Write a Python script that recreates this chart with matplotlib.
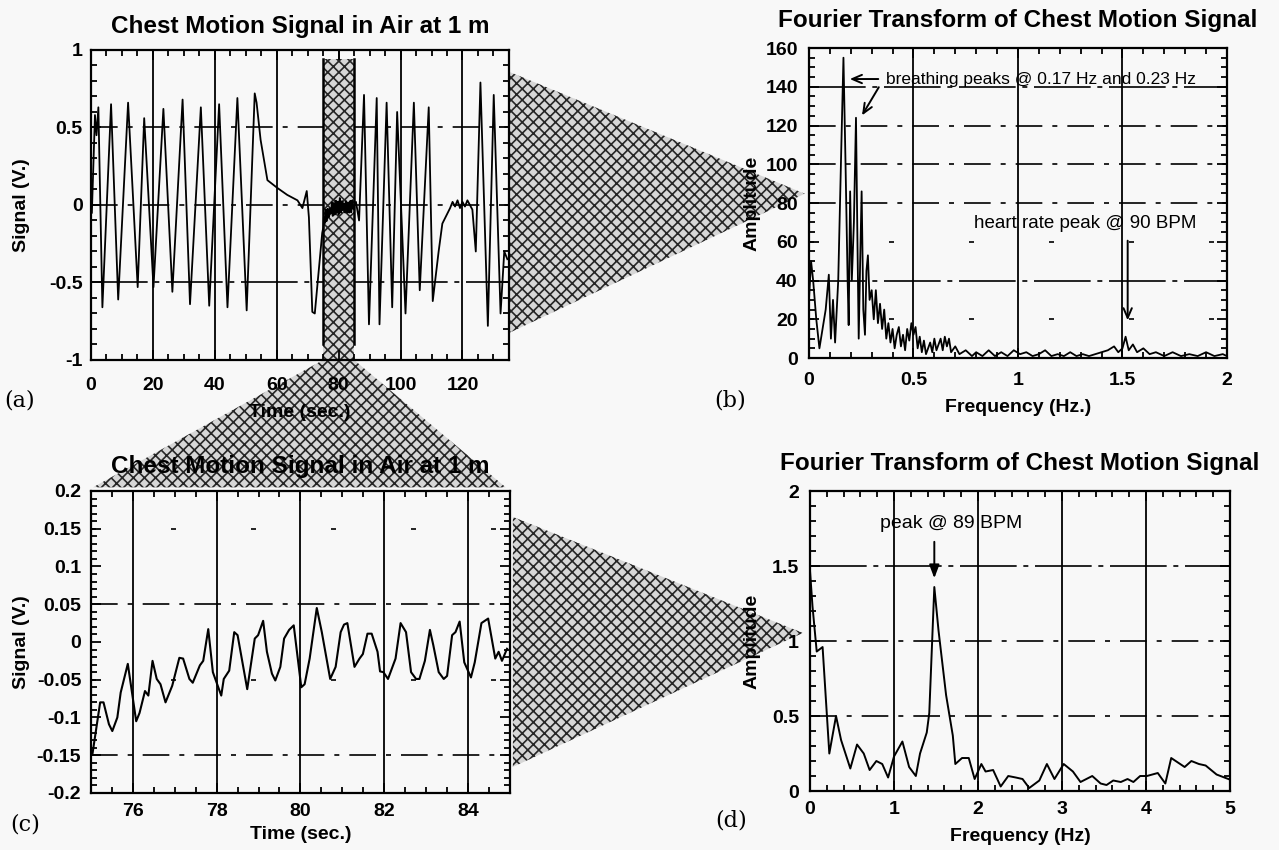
import matplotlib
matplotlib.use('Agg')
import matplotlib.pyplot as plt
from matplotlib.patches import Polygon
from matplotlib.ticker import MultipleLocator

plt.rcParams['font.family'] = ['Liberation Sans', 'DejaVu Sans']
plt.rcParams['hatch.linewidth'] = 1.2

# ---- (a) chest motion over the whole record, peaks/troughs
a_t_start = [0.3, 1.3, 1.8, 2.4, 3.7, 6.5, 8.8, 12.0, 15.1, 17.2, 20.2, 23.4, 26.3,
             29.6, 32.0, 35.5, 38.2, 41.4, 44.1, 47.3, 50.3, 52.9, 53.5, 54.8, 57.0,
             60.2, 63.4, 66.7, 68.3, 69.7, 70.4, 71.5, 72.3, 73.7, 74.7]
a_v_start = [-0.05, 0.58, 0.45, 0.63, -0.66, 0.65, -0.61, 0.66, -0.53, 0.56, -0.53, 0.62, -0.56,
             0.68, -0.64, 0.63, -0.65, 0.65, -0.66, 0.69, -0.68, 0.72, 0.66, 0.42, 0.16,
             0.11, 0.065, 0.03, -0.02, 0.09, -0.08, -0.69, -0.70, -0.40, -0.18]
a_t_end = [85.6, 86.6, 88.2, 89.8, 92.3, 93.2, 95.5, 97.3, 98.9, 101.6, 104.3, 106.2,
           109.1, 110.4, 112.3, 113.5, 115.0, 116.0, 116.8, 117.6, 118.4, 119.2, 120.0,
           120.8, 121.6, 122.4, 123.2, 124.3, 125.8, 128.2, 130.1, 132.3, 133.5, 134.5]
a_v_end = [0.02, -0.10, 0.71, -0.77, 0.69, -0.77, 0.66, -0.66, 0.60, -0.70, 0.66, -0.55,
           0.63, -0.62, -0.30, -0.12, -0.06, -0.02, 0.02, -0.01, 0.03, -0.02, 0.02,
           -0.01, 0.03, 0.0, -0.03, -0.30, 0.79, -0.78, 0.71, -0.70, -0.30, -0.35]

# ---- (c) the 75-85 s window
c_t = [75.04, 75.22, 75.30, 75.43, 75.51, 75.63, 75.71, 75.88, 76.08, 76.16, 76.29, 76.37,
       76.47, 76.57, 76.66, 76.78, 76.94, 77.11, 77.20, 77.35, 77.43, 77.60, 77.68, 77.80,
       77.91, 78.11, 78.17, 78.30, 78.42, 78.50, 78.73, 78.91, 78.99, 79.11, 79.20, 79.32,
       79.40, 79.52, 79.61, 79.73, 79.84, 80.02, 80.10, 80.22, 80.39, 80.51, 80.71, 80.84,
       80.96, 81.04, 81.12, 81.29, 81.41, 81.49, 81.60, 81.70, 81.84, 81.90, 81.98, 82.09,
       82.27, 82.39, 82.52, 82.64, 82.76, 82.84, 82.97, 83.09, 83.17, 83.30, 83.42, 83.50,
       83.62, 83.70, 83.80, 83.91, 84.07, 84.16, 84.32, 84.48, 84.65, 84.73, 84.81, 84.93]
c_v = [-0.147, -0.080, -0.080, -0.109, -0.118, -0.100, -0.067, -0.029, -0.105, -0.094,
       -0.065, -0.071, -0.025, -0.049, -0.056, -0.080, -0.058, -0.021, -0.022, -0.049,
       -0.054, -0.031, -0.025, 0.017, -0.040, -0.071, -0.049, -0.038, 0.013, 0.009,
       -0.0625, 0.0045, 0.009, 0.028, -0.013, -0.042, -0.051, -0.033, 0.0045, 0.016,
       0.022, -0.060, -0.056, -0.022, 0.045, 0.013, -0.049, -0.033, 0.013, 0.023,
       0.025, -0.033, -0.022, -0.016, 0.011, 0.011, -0.013, -0.039, -0.040, -0.049,
       -0.022, 0.025, 0.013, -0.040, -0.049, -0.049, -0.025, 0.016, -0.004, -0.040,
       -0.049, -0.045, 0.009, 0.013, 0.027, -0.027, -0.047, -0.027, 0.025, 0.031,
       -0.022, -0.013, -0.025, -0.009]
c_window = (75, 85)

# ---- (b) spectrum of the whole record
b_f = [0.00, 0.01, 0.02, 0.035, 0.05, 0.065, 0.08, 0.095, 0.105, 0.115, 0.125, 0.14, 0.155,
       0.165, 0.175, 0.185, 0.19, 0.197, 0.205, 0.215, 0.225, 0.232, 0.238, 0.245, 0.252,
       0.26, 0.268, 0.275, 0.282, 0.29, 0.30, 0.31, 0.32, 0.33, 0.34, 0.35, 0.36, 0.37,
       0.38, 0.39, 0.40, 0.41, 0.42, 0.43, 0.44, 0.45, 0.46, 0.47, 0.48, 0.49, 0.50, 0.51,
       0.52, 0.53, 0.54, 0.55, 0.56, 0.58, 0.59, 0.60, 0.61, 0.62, 0.63, 0.64, 0.65, 0.66,
       0.67, 0.68, 0.70, 0.72, 0.75, 0.78, 0.80, 0.83, 0.86, 0.89, 0.92, 0.95, 0.98, 1.01,
       1.04, 1.07, 1.10, 1.13, 1.16, 1.19, 1.22, 1.25, 1.28, 1.31, 1.34, 1.37, 1.40, 1.43,
       1.46, 1.48, 1.50, 1.515, 1.53, 1.55, 1.57, 1.60, 1.63, 1.66, 1.70, 1.74, 1.78, 1.82,
       1.86, 1.90, 1.94, 1.98, 2.00]
b_amp = [30, 50, 40, 20, 5, 15, 25, 43, 10, 30, 8, 40, 110,
         155, 100, 40, 17, 86, 40, 70, 124, 60, 10, 50, 86,
         25, 12, 45, 53, 30, 35, 20, 35, 18, 28, 15, 25, 10,
         18, 8, 15, 5, 12, 16, 6, 12, 4, 15, 9, 18, 12, 16,
         5, 11, 3, 9, 2, 8, 3, 10, 4, 7, 10, 4, 11, 6,
         10, 3, 6, 2, 4, 1, 3, 1, 4, 1, 3, 1, 4, 2,
         3, 1, 2, 4, 1, 2, 1, 3, 1, 2, 1, 2, 3, 4,
         6, 3, 5, 11, 4, 7, 3, 5, 2, 3, 1, 3, 1, 2,
         1, 3, 1, 2, 1]

# ---- (d) spectrum of the 75-85 s window
d_f = [0.0, 0.03, 0.08, 0.15, 0.23, 0.31, 0.37, 0.48, 0.56, 0.64, 0.71, 0.79, 0.86, 0.93,
       1.00, 1.10, 1.18, 1.26, 1.31, 1.39, 1.42, 1.48, 1.53, 1.62, 1.70, 1.73, 1.81, 1.89,
       1.96, 2.04, 2.09, 2.18, 2.27, 2.36, 2.45, 2.53, 2.61, 2.73, 2.82, 2.91, 3.02, 3.13,
       3.22, 3.36, 3.46, 3.53, 3.61, 3.70, 3.78, 3.85, 3.93, 4.01, 4.14, 4.23, 4.30, 4.46,
       4.54, 4.63, 4.71, 4.84, 4.98]
d_amp = [1.47, 1.23, 0.93, 0.96, 0.25, 0.50, 0.34, 0.15, 0.31, 0.25, 0.14, 0.20, 0.18, 0.09,
         0.23, 0.33, 0.16, 0.10, 0.25, 0.39, 0.52, 1.36, 1.07, 0.64, 0.37, 0.18, 0.22, 0.22,
         0.08, 0.18, 0.13, 0.14, 0.03, 0.10, 0.09, 0.08, 0.02, 0.07, 0.18, 0.08, 0.18, 0.13,
         0.06, 0.10, 0.05, 0.04, 0.07, 0.06, 0.08, 0.06, 0.10, 0.10, 0.12, 0.05, 0.22, 0.16,
         0.20, 0.18, 0.17, 0.11, 0.08]

# tick positions / labels
a_xticks = [0, 20, 40, 60, 80, 100, 120]
a_xlabels = ['0', '20', '40', '60', '80', '100', '120']
a_yticks = [-1, -0.5, 0, 0.5, 1]
a_ylabels = ['-1', '-0.5', '0', '0.5', '1']
b_xticks = [0, 0.5, 1, 1.5, 2]
b_xlabels = ['0', '0.5', '1', '1.5', '2']
b_yticks = [0, 20, 40, 60, 80, 100, 120, 140, 160]
b_ylabels = ['0', '20', '40', '60', '80', '100', '120', '140', '160']
c_xticks = [76, 78, 80, 82, 84]
c_xlabels = ['76', '78', '80', '82', '84']
c_yticks = [-0.2, -0.15, -0.1, -0.05, 0, 0.05, 0.1, 0.15, 0.2]
c_ylabels = ['-0.2', '-0.15', '-0.1', '-0.05', '0', '0.05', '0.1', '0.15', '0.2']
d_xticks = [0, 1, 2, 3, 4, 5]
d_xlabels = ['0', '1', '2', '3', '4', '5']
d_yticks = [0, 0.5, 1, 1.5, 2]
d_ylabels = ['0', '0.5', '1', '1.5', '2']

title_a = 'Chest Motion Signal in Air at 1 m'
title_b = 'Fourier Transform of Chest Motion Signal'

BG = '#f8f8f8'
STIP_FACE = '#d6d6d6'
STIP_EDGE = '#262626'
# the scanned horizontal grid lines come out broken in different ways
DENSE = (0, (34, 4, 3, 4))
DASHDOT = (0, (16, 6, 3, 6))
SPARSE = (0, (3, 45))

# horizontal grid values and how broken each one looks
a_hgrid = [(0.5, DASHDOT), (0, DASHDOT), (-0.5, DENSE)]
b_hgrid = [(140, DENSE), (120, DASHDOT), (100, DASHDOT), (80, DASHDOT), (60, SPARSE),
           (40, DENSE), (20, SPARSE)]
c_hgrid = [(0.15, SPARSE), (0.05, DASHDOT), (-0.05, SPARSE), (-0.15, DASHDOT)]
d_hgrid = [(1.5, DENSE), (1, DASHDOT), (0.5, DASHDOT)]

fig = plt.figure(figsize=(12.79, 8.5), dpi=100, facecolor=BG)
ax_a = fig.add_axes([0.0711, 0.5765, 0.3268, 0.3647], facecolor='none')
ax_b = fig.add_axes([0.6325, 0.5788, 0.3268, 0.3647], facecolor='none')
ax_c = fig.add_axes([0.0711, 0.0671, 0.3276, 0.3553], facecolor='none')
ax_d = fig.add_axes([0.6333, 0.0694, 0.3284, 0.3529], facecolor='none')


def dress(ax, xt, xl, yt, yl, xminor, yminor, xpad, ypad, hgrid):
    ax.set_xticks(xt, xl)
    ax.set_yticks(yt, yl)
    ax.xaxis.set_minor_locator(MultipleLocator(xminor))
    ax.yaxis.set_minor_locator(MultipleLocator(yminor))
    ax.tick_params(which='both', direction='in', top=True, right=True, width=1.3,
                   labelsize=14)
    ax.tick_params(which='major', length=7)
    ax.tick_params(which='minor', length=4)
    ax.tick_params(axis='x', which='major', pad=xpad)
    ax.tick_params(axis='y', which='major', pad=ypad)
    for lab in ax.get_xticklabels() + ax.get_yticklabels():
        lab.set_fontweight('bold')
    for s in ax.spines.values():
        s.set_linewidth(1.6)
    lo, hi = ax.get_xlim()
    for x in xt:
        if lo < x < hi:
            ax.axvline(x, color='k', lw=1.3, zorder=1)
    for y, ls in hgrid:
        ax.axhline(y, color='k', lw=1.2, ls=ls, zorder=1)


# (a)
a_t = a_t_start + c_t + a_t_end
a_v = a_v_start + c_v + a_v_end
ax_a.set_xlim(0, 135)
ax_a.set_ylim(-1, 1)
dress(ax_a, a_xticks, a_xlabels, a_yticks, a_ylabels, 5, 0.1, 12, 6, a_hgrid)
ax_a.axvspan(*c_window, ymin=0.0, ymax=0.97, facecolor=STIP_FACE, edgecolor=STIP_EDGE,
             hatch='xxx', lw=0, zorder=1.5)
for x in c_window:
    ax_a.axvline(x, ymin=0.05, ymax=0.97, color='k', lw=1.8, zorder=1.6)
ax_a.plot(a_t, a_v, color='k', lw=1.3, zorder=3)
ax_a.set_title(title_a, fontsize=17.5, fontweight='bold', pad=12)
ax_a.set_xlabel('Time (sec.)', fontsize=14, fontweight='bold', va='center')
ax_a.xaxis.set_label_coords(0.5, -0.168)
ax_a.set_ylabel('Signal (V.)', fontsize=14, fontweight='bold', va='center')
ax_a.yaxis.set_label_coords(-0.165, 0.5)

# (b)
ax_b.set_xlim(0, 2)
ax_b.set_ylim(0, 160)
dress(ax_b, b_xticks, b_xlabels, b_yticks, b_ylabels, 0.1, 5, 10, 8, b_hgrid)
ax_b.plot(b_f, b_amp, color='k', lw=1.3, zorder=3)
ax_b.set_title(title_b, fontsize=17.5, fontweight='bold', pad=15)
ax_b.set_xlabel('Frequency (Hz.)', fontsize=14, fontweight='bold', va='center')
ax_b.xaxis.set_label_coords(0.5, -0.161)
ax_b.set_ylabel('Amplitude', fontsize=14, fontweight='bold', va='center')
ax_b.yaxis.set_label_coords(-0.136, 0.5)
ax_b.text(0.37, 144, 'breathing peaks @ 0.17 Hz and 0.23 Hz', fontsize=12.5,
          ha='left', va='center', zorder=4)
arrow_kw = dict(arrowstyle='->,head_length=0.7,head_width=0.3', color='k', lw=1.4)
ax_b.annotate('', xy=(0.182, 144), xytext=(0.345, 144), arrowprops=arrow_kw, zorder=4)
ax_b.annotate('', xy=(0.247, 124), xytext=(0.341, 141), arrowprops=arrow_kw, zorder=4)
ax_b.text(1.32, 69.4, 'heart rate peak @ 90 BPM', fontsize=13.5, ha='center',
          va='center', zorder=4)
ax_b.annotate('', xy=(1.525, 18), xytext=(1.525, 62), arrowprops=arrow_kw, zorder=4)

# (c)
ax_c.set_xlim(*c_window)
ax_c.set_ylim(-0.2, 0.2)
dress(ax_c, c_xticks, c_xlabels, c_yticks, c_ylabels, 0.5, 0.01, 7, 7, c_hgrid)
ax_c.plot(c_t, c_v, color='k', lw=1.5, zorder=3)
ax_c.set_title(title_a, fontsize=17.5, fontweight='bold', pad=13)
ax_c.set_xlabel('Time (sec.)', fontsize=14, fontweight='bold', va='center')
ax_c.xaxis.set_label_coords(0.5, -0.139)
ax_c.set_ylabel('Signal (V.)', fontsize=14, fontweight='bold', va='center')
ax_c.yaxis.set_label_coords(-0.165, 0.5)

# (d)
ax_d.set_xlim(0, 5)
ax_d.set_ylim(0, 2)
dress(ax_d, d_xticks, d_xlabels, d_yticks, d_ylabels, 0.2, 0.1, 7, 8, d_hgrid)
ax_d.plot(d_f, d_amp, color='k', lw=1.4, zorder=3)
ax_d.set_title(title_b, fontsize=17.5, fontweight='bold', pad=15)
ax_d.set_xlabel('Frequency (Hz)', fontsize=14, fontweight='bold', va='center')
ax_d.xaxis.set_label_coords(0.5, -0.153)
ax_d.set_ylabel('Amplitude', fontsize=14, fontweight='bold', va='center')
ax_d.yaxis.set_label_coords(-0.138, 0.5)
ax_d.text(1.68, 1.784, 'peak @ 89 BPM', fontsize=14, ha='center', va='center', zorder=4)
ax_d.annotate('', xy=(1.48, 1.40), xytext=(1.48, 1.68),
              arrowprops=dict(arrowstyle='-|>,head_length=0.8,head_width=0.3',
                              color='k', lw=1.4), zorder=4)

# stippled "zoom" wedges joining the panels
to_fig = fig.transFigure.inverted()


def fpt(ax, x, y, data=False):
    tr = ax.transData if data else ax.transAxes
    return to_fig.transform(tr.transform((x, y)))


wedges = [
    [fpt(ax_a, 1.0, 0.93), fpt(ax_a, 1.0, 0.087), fpt(ax_b, -0.01, 0.53)],
    [fpt(ax_a, c_window[0], -1, True), fpt(ax_a, c_window[1], -1, True),
     fpt(ax_c, 0.99, 1.012), fpt(ax_c, 0.005, 1.012)],
    [fpt(ax_c, 1.007, 0.914), fpt(ax_c, 1.007, 0.086), fpt(ax_d, -0.017, 0.527)],
]
for pts in wedges:
    fig.add_artist(Polygon(pts, closed=True, transform=fig.transFigure,
                           facecolor=STIP_FACE, edgecolor=STIP_EDGE, hatch='xxx',
                           lw=0, zorder=-1))

# panel tags
for tag, x, y in [('(a)', 20, 400), ('(b)', 730, 400), ('(c)', 25, 825), ('(d)', 731, 820)]:
    fig.text(x / 1279, 1 - y / 850, tag, family='DejaVu Serif', fontsize=16,
             ha='center', va='center')

fig.savefig('out.png', dpi=100, facecolor=fig.get_facecolor())
